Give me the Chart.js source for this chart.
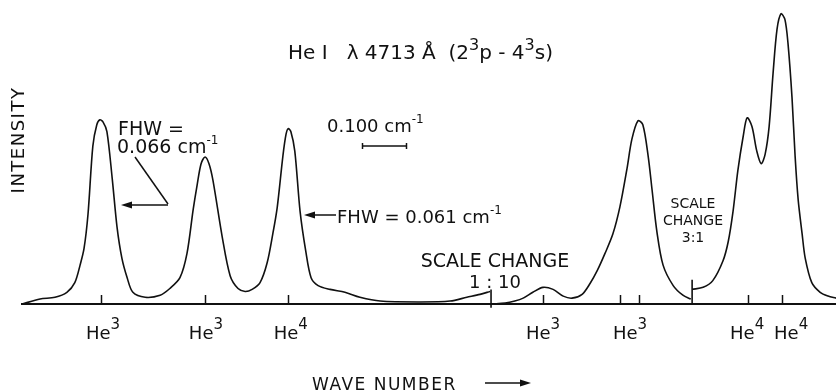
<!DOCTYPE html>
<html>
<head>
<meta charset="utf-8">
<title>He I 4713 A profile</title>
<script src="https://cdn.jsdelivr.net/npm/chart.js@4.4.1/dist/chart.umd.min.js"></script>
<style>
  html, body { margin: 0; padding: 0; background: #fff; }
  #wrap { width: 836px; height: 391px; }
</style>
</head>
<body>
<div id="wrap"><canvas id="heChart"></canvas></div>
<script>
// x: wave number offset in 0.001 cm^-1 (display axis, broken at the scale changes)
// y: intensity, arbitrary units
const leftX = [0, 41, 75, 102, 120, 132, 141, 150, 161, 170, 177, 184, 193, 205, 216, 227, 239, 252, 280, 314,
    336, 359, 375, 389, 398, 407, 416, 425, 434, 455, 473, 491, 507, 523, 541, 557, 570, 580, 593, 600,
    605, 611, 620, 632, 645, 657, 673, 700, 734, 768, 814, 905, 973, 1011, 1041, 1064];
const leftY = [0, 1.7, 2.3, 4.0, 7.3, 13.3, 19.0, 30.7, 54.0, 61.3, 63.0, 62.3, 59.0, 43.0, 26.3, 15.7, 9.0, 4.0, 2.3, 3.0,
    5.3, 9.0, 17.3, 32.3, 40.7, 48.0, 50.3, 48.0, 42.3, 23.0, 9.7, 5.3, 4.3, 5.0, 7.3, 14.0, 24.0, 33.0, 50.7, 58.0,
    60.0, 59.0, 52.3, 31.7, 18.0, 9.0, 6.3, 5.0, 4.0, 2.3, 1.0, 0.7, 1.0, 2.3, 3.3, 4.3];

// after scale change 1:10
const midX = [1068, 1098, 1120, 1139, 1161, 1184, 1207, 1230, 1250, 1273, 1291, 1307, 1325, 1343, 1359, 1375,
    1386, 1400, 1411, 1423, 1432, 1443, 1457, 1480, 1502, 1520];
const midY = [0, 0.3, 1.0, 2.0, 4.0, 5.7, 5.0, 2.7, 2.0, 3.3, 7.0, 11.3, 17.3, 24.0, 33.3, 46.3,
    56.3, 62.7, 61.3, 50.7, 39.0, 24.7, 13.3, 6.3, 3.0, 1.7];

// after scale change 3:1
const rightX = [1523, 1548, 1570, 1593, 1605, 1616, 1627, 1639, 1648, 1659, 1670, 1680, 1689, 1698, 1707, 1716,
    1725, 1734, 1741, 1750, 1757, 1764, 1773, 1780, 1795, 1814, 1832, 1850];
const rightY = [5.0, 5.7, 8.0, 14.7, 21.3, 31.7, 45.7, 57.3, 63.7, 60.7, 52.3, 48.0, 51.3, 60.7, 79.0, 94.0,
    99.3, 97.3, 89.0, 70.7, 50.7, 35.7, 24.0, 15.7, 7.3, 4.0, 2.7, 2.0];

// scale change markers
const scaleChangeX = [1066, 1523];
const scaleChangeLow = [-1.3, 0];
const scaleChangeHigh = [5.0, 8.3];

// isotope ticks and labels
const tickValues = [180, 416, 605, 1184, 1359, 1402, 1650, 1727];
const labelValues = [184, 418, 611, 1184, 1382, 1648, 1748];
const labelMass = ['3', '3', '4', '3', '3', '4', '4'];

// 0.100 cm^-1 scale bar
const scaleBar = [773, 873];

const INK = '#111';
const FONT = '"DejaVu Sans", "Liberation Sans", sans-serif';

function toPoints(xs, ys) {
    return xs.map((x, i) => ({ x: x, y: ys[i] }));
}

function segment(xs, ys) {
    return {
        data: toPoints(xs, ys),
        borderColor: INK,
        borderWidth: 1.6,
        pointRadius: 0,
        fill: false,
        tension: 0.3
    };
}

function marker(i) {
    return {
        data: [{ x: scaleChangeX[i], y: scaleChangeLow[i] }, { x: scaleChangeX[i], y: scaleChangeHigh[i] }],
        borderColor: INK,
        borderWidth: 1.6,
        pointRadius: 0,
        fill: false,
        tension: 0,
        clip: false
    };
}

// draws text made of pieces, some raised as superscripts
function richText(ctx, parts, x, y, align) {
    let total = 0;
    parts.forEach(p => {
        ctx.font = p[1] + 'px ' + FONT;
        total += ctx.measureText(p[0]).width;
    });
    let cx = align === 'center' ? x - total / 2 : x;
    parts.forEach(p => {
        ctx.font = p[1] + 'px ' + FONT;
        ctx.textAlign = 'left';
        ctx.textBaseline = 'alphabetic';
        ctx.fillText(p[0], cx, y + (p[2] || 0));
        cx += ctx.measureText(p[0]).width;
    });
}

function line(ctx, x1, y1, x2, y2) {
    ctx.beginPath();
    ctx.moveTo(x1, y1);
    ctx.lineTo(x2, y2);
    ctx.stroke();
}

function arrowHead(ctx, x, y, dir) {
    ctx.beginPath();
    ctx.moveTo(x, y);
    ctx.lineTo(x - dir * 11, y - 3.5);
    ctx.lineTo(x - dir * 11, y + 3.5);
    ctx.closePath();
    ctx.fill();
}

const annotations = {
    id: 'annotations',
    afterDatasetsDraw(chart) {
        const ctx = chart.ctx;
        const xs = chart.scales.x;
        const ys = chart.scales.y;
        const base = ys.getPixelForValue(0);
        ctx.save();
        ctx.strokeStyle = INK;
        ctx.fillStyle = INK;
        ctx.lineWidth = 1.5;

        // isotope tick marks, pointing up from the base line
        tickValues.forEach(v => {
            const px = Math.round(xs.getPixelForValue(v)) + 0.5;
            line(ctx, px, base, px, base - 9);
        });
        labelValues.forEach((v, i) => {
            richText(ctx, [['He', 18], [labelMass[i], 15, -10]], xs.getPixelForValue(v), 339, 'center');
        });

        // title
        richText(ctx, [['He I   \u03bb 4713 \u00c5  (2', 20], ['3', 16, -9], ['p - 4', 20], ['3', 16, -9], ['s)', 20]],
            288, 59, 'left');

        // axis titles
        ctx.save();
        ctx.letterSpacing = '1.5px';
        ctx.translate(19, 140);
        ctx.rotate(-Math.PI / 2);
        ctx.font = '18px ' + FONT;
        ctx.textAlign = 'center';
        ctx.textBaseline = 'middle';
        ctx.fillText('INTENSITY', 0, 0);
        ctx.restore();

        ctx.save();
        ctx.letterSpacing = '1.5px';
        ctx.font = '17px ' + FONT;
        ctx.textAlign = 'left';
        ctx.textBaseline = 'alphabetic';
        ctx.fillText('WAVE NUMBER', 312, 390);
        ctx.restore();
        line(ctx, 485, 383, 522, 383);
        arrowHead(ctx, 531, 383, 1);

        // FHW notes
        richText(ctx, [['FHW =', 19]], 118, 135, 'left');
        richText(ctx, [['0.066 cm', 19], ['-1', 12, -9]], 117, 153, 'left');
        line(ctx, 135, 157, 168, 204);
        line(ctx, 168, 205, 130, 205);
        arrowHead(ctx, 121, 205, -1);

        richText(ctx, [['FHW = 0.061 cm', 18], ['-1', 12, -9]], 337, 223, 'left');
        line(ctx, 336, 215, 312, 215);
        arrowHead(ctx, 304, 215, -1);

        // 0.100 cm^-1 scale bar
        richText(ctx, [['0.100 cm', 18], ['-1', 12, -9]], 327, 132, 'left');
        const b1 = Math.round(xs.getPixelForValue(scaleBar[0])) + 0.5;
        const b2 = Math.round(xs.getPixelForValue(scaleBar[1])) + 0.5;
        line(ctx, b1, 146, b2, 146);
        line(ctx, b1, 143, b1, 149);
        line(ctx, b2, 143, b2, 149);

        // scale change notes
        richText(ctx, [['SCALE CHANGE', 19]], 495, 267, 'center');
        richText(ctx, [['1 : 10', 18]], 495, 288, 'center');
        richText(ctx, [['SCALE', 14]], 693, 208, 'center');
        richText(ctx, [['CHANGE', 14]], 693, 225, 'center');
        richText(ctx, [['3:1', 14]], 693, 242, 'center');

        ctx.restore();
    }
};

new Chart(document.getElementById('heChart'), {
    type: 'scatter',
    data: {
        datasets: [
            segment(leftX, leftY),
            segment(midX, midY),
            segment(rightX, rightY),
            marker(0),
            marker(1)
        ]
    },
    options: {
        responsive: true,
        maintainAspectRatio: false,
        animation: false,
        showLine: true,
        layout: { padding: { left: 22, right: 0, top: 0, bottom: 79 } },
        plugins: {
            legend: { display: false },
            tooltip: { enabled: false }
        },
        scales: {
            x: {
                type: 'linear',
                min: 0,
                max: 1850,
                grid: { display: false },
                ticks: { display: false },
                border: { display: true, color: INK, width: 2 }
            },
            y: {
                display: false,
                min: 0,
                max: 104
            }
        }
    },
    plugins: [annotations]
});
</script>
</body>
</html>
